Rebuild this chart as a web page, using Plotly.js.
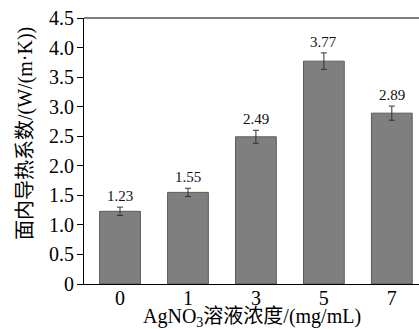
<!DOCTYPE html>
<html><head><meta charset="utf-8">
<script src="https://cdn.plot.ly/plotly-3.0.1.min.js"></script>
<style>body{margin:0;padding:0;background:#fff}#c{width:419px;height:329px}</style>
</head><body><div id="c"></div>
<script>
const categories = ['0','1','3','5','7'];
const values = [1.23, 1.55, 2.49, 3.77, 2.89];
const errors = [0.07, 0.07, 0.11, 0.14, 0.12];
const labels = ['1.23','1.55','2.49','3.77','2.89'];
const yTickVals = [0,0.5,1,1.5,2,2.5,3,3.5,4,4.5];
const yTickText = ['0','0.5','1.0','1.5','2.0','2.5','3.0','3.5','4.0','4.5'];
const xTitle = 'AgNO<sub>3</sub>溶液浓度/(mg/mL)';
const yTitle = '面内导热系数/(W/(m·K))';

const serif = '"Liberation Serif", "Times New Roman", "Noto Sans CJK SC", serif';
const trace = {
  type:'bar', x:[0,1,2,3,4], y:values,
  marker:{color:'#7f7f7f', line:{color:'#5a5a5a', width:1}},
  error_y:{type:'data', array:errors, visible:true, color:'#333', thickness:1, width:3},
  hoverinfo:'none'
};
const annotations = values.map((v,i)=>({
  x:i, y:v+errors[i], xref:'x', yref:'y', text:labels[i], showarrow:false,
  yanchor:'bottom', yshift:1, font:{family:serif, size:15, color:'#111'}
}));
annotations.push({xref:'paper', yref:'paper', x:0.5, y:-0.125, text:xTitle, showarrow:false,
  xanchor:'center', yanchor:'middle', font:{family:serif, size:20, color:'#000'}});
annotations.push({xref:'paper', yref:'paper', x:-0.173, y:0.564, text:yTitle, showarrow:false,
  textangle:-90, xanchor:'center', yanchor:'middle', font:{family:serif, size:20, color:'#000'}});
const layout = {
  width:419, height:329,
  margin:{l:84, r:0, t:18, b:45},
  paper_bgcolor:'#fff', plot_bgcolor:'#fff',
  showlegend:false, bargap:0.4,
  xaxis:{range:[-0.53,4.4], tickvals:[0,1,2,3,4], ticktext:categories,
    showgrid:false, zeroline:false, showline:true, linecolor:'#000', linewidth:1,
    ticks:'', ticklen:0, ticklabelstandoff:-4, tickfont:{family:serif, size:20, color:'#000'}},
  yaxis:{range:[0,4.5], tickvals:yTickVals, ticktext:yTickText,
    showgrid:false, zeroline:false, showline:true, linecolor:'#000', linewidth:1,
    ticks:'outside', ticklen:6, tickcolor:'#000', ticklabelstandoff:-1, tickfont:{family:serif, size:20, color:'#000'}},
  shapes:[{type:'line', xref:'paper', yref:'paper', x0:0, x1:1, y0:1, y1:1, line:{color:'#000', width:1}}],
  annotations:annotations
};
Plotly.newPlot('c',[trace],layout,{displayModeBar:false,staticPlot:true});
</script></body></html>
